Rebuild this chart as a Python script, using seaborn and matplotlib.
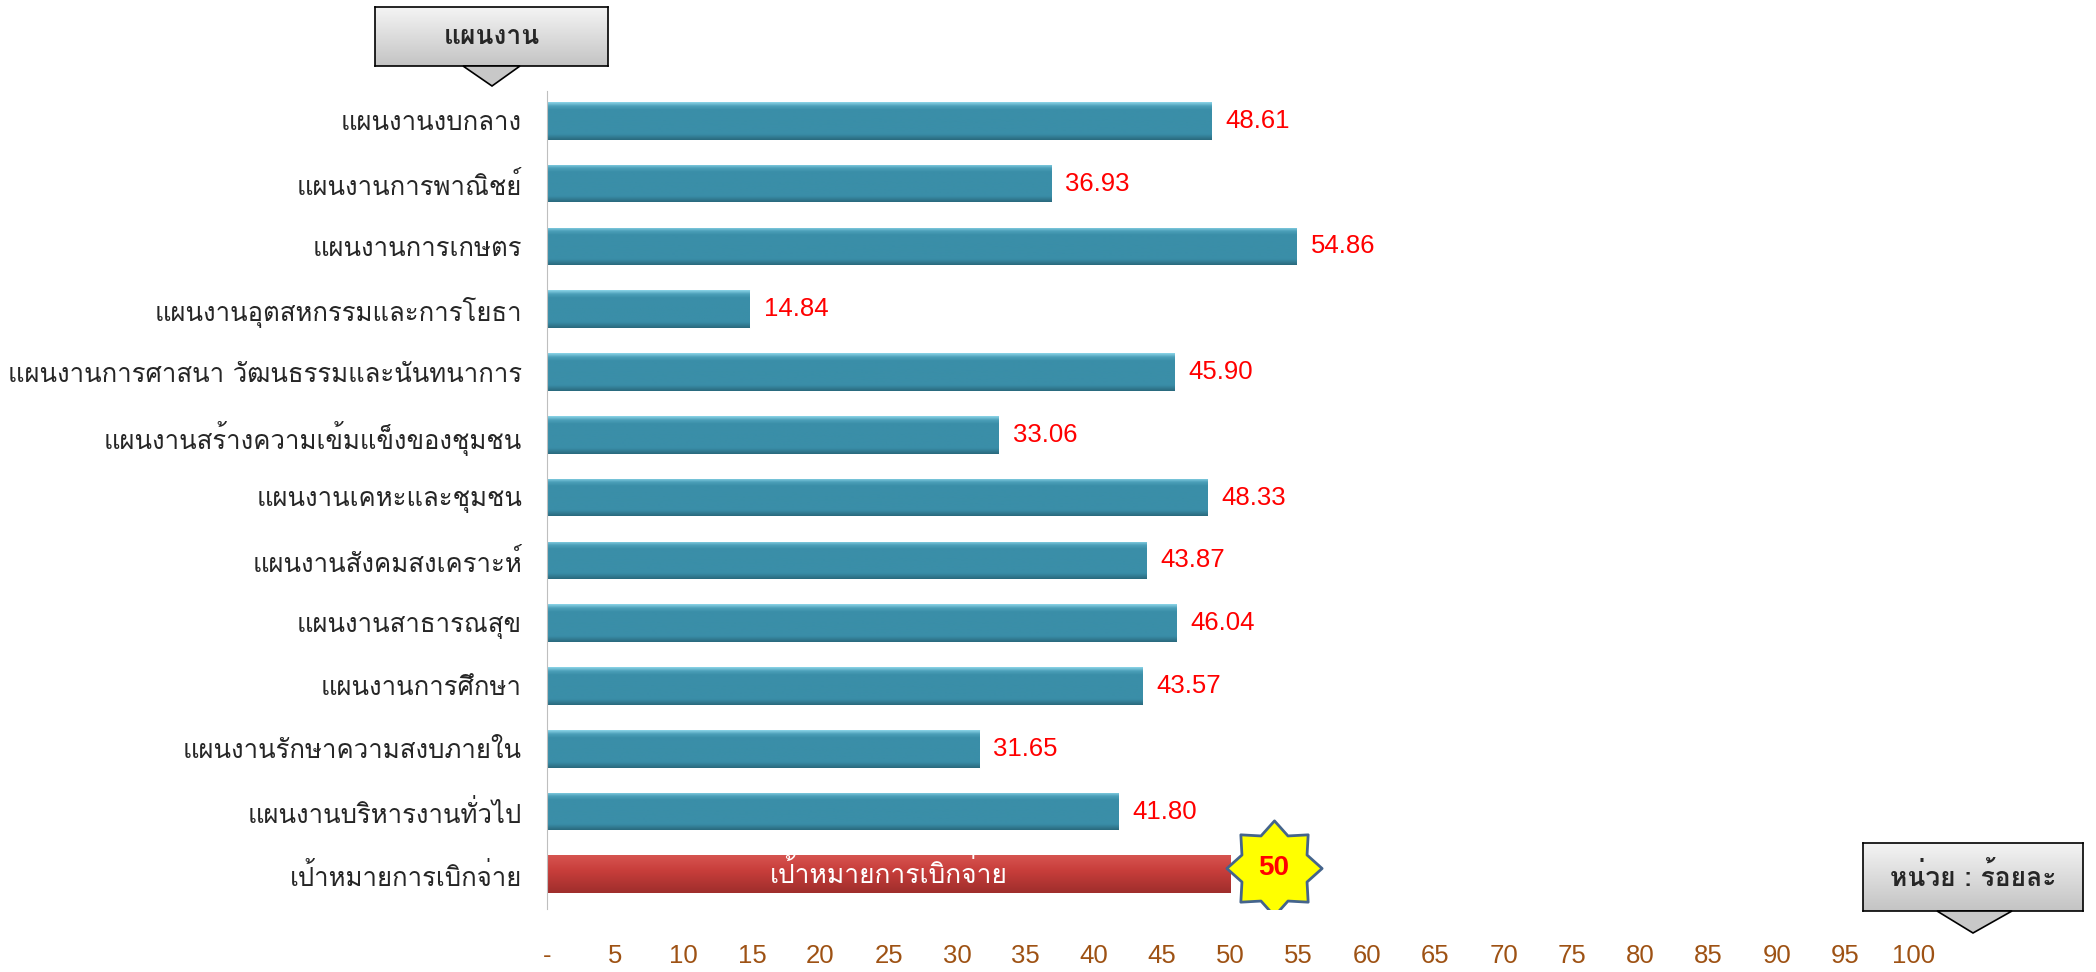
import numpy as np
import pandas as pd
import matplotlib
matplotlib.use("Agg")
import matplotlib.pyplot as plt
import seaborn as sns
from matplotlib import font_manager, ft2font
from matplotlib.colors import LinearSegmentedColormap
from matplotlib.patches import Polygon
from matplotlib.path import Path

# ข้อมูล
plans = ["แผนงานงบกลาง", "แผนงานการพาณิชย์", "แผนงานการเกษตร",
         "แผนงานอุตสหกรรมและการโยธา", "แผนงานการศาสนา วัฒนธรรมและนันทนาการ",
         "แผนงานสร้างความเข้มแข็งของชุมชน", "แผนงานเคหะและชุมชน",
         "แผนงานสังคมสงเคราะห์", "แผนงานสาธารณสุข", "แผนงานการศึกษา",
         "แผนงานรักษาความสงบภายใน", "แผนงานบริหารงานทั่วไป"]
values = [48.61, 36.93, 54.86, 14.84, 45.90, 33.06, 48.33, 43.87, 46.04, 43.57, 31.65, 41.80]
target_label = "เป้าหมายการเบิกจ่าย"
target = 50
xticks = list(range(0, 101, 5))
xtick_labels = ["-"] + [str(t) for t in xticks[1:]]


# หา font ที่มีอักษรไทย
def find_thai_font():
    prefer = ["Tahoma", "Loma", "Garuda", "Noto Sans Thai", "Sarabun", "Norasi", "Kinnari"]
    found = []
    for f in font_manager.fontManager.ttflist:
        try:
            cm = ft2font.FT2Font(f.fname).get_charmap()
        except Exception:
            continue
        if 0x0E01 in cm:
            found.append(f.name)
    for p in prefer:
        if p in found:
            return p
    return found[0] if found else "DejaVu Sans"


sns.set_style("white")
thai = find_thai_font()
plt.rcParams["font.family"] = [thai, "DejaVu Sans"]
num_font = ["Liberation Sans Narrow", "Liberation Sans", "DejaVu Sans"]

df = pd.DataFrame({"plan": plans + [target_label], "value": values + [target]})
pal = {p: "#3A8EA8" for p in plans}
pal[target_label] = "#C23B38"

fig = plt.figure(figsize=(20.96, 9.72), dpi=100)
ax = fig.add_axes([0.261, 0.065, 0.652, 0.841])
sns.barplot(data=df, y="plan", x="value", hue="plan", palette=pal, legend=False,
            orient="h", width=0.6, ax=ax, saturation=1)

teal = LinearSegmentedColormap.from_list("teal", [(0, "#8AD3E6"), (0.1, "#4B9FB8"), (0.2, "#3A8EA8"),
                                                  (0.85, "#3A8EA8"), (1, "#2A6A7E")])
red = LinearSegmentedColormap.from_list("red", [(0, "#D65450"), (0.4, "#C83E3B"), (1, "#9F2E2C")])
grad = np.linspace(0, 1, 64).reshape(-1, 1)
for i, patch in enumerate(ax.patches):
    x0, y0 = patch.get_x(), patch.get_y()
    w, h = patch.get_width(), patch.get_height()
    cm = red if i == len(ax.patches) - 1 else teal
    im = ax.imshow(grad, cmap=cm, aspect="auto", extent=(x0, x0 + w, y0 + h, y0),
                   origin="upper", zorder=patch.get_zorder() + 0.1)
    im.set_clip_path(patch)

for i, v in enumerate(values):
    ax.text(v + 1.0, i, f"{v:.2f}", color="red", fontsize=18.5, va="center", ha="left",
            family=num_font)

ax.text(target / 2, len(plans), target_label, color="white", fontsize=19, va="center", ha="center", zorder=5)

# ดาว
n = 8
ang = np.linspace(0, 2 * np.pi, 2 * n, endpoint=False) + np.pi / 2
r = np.where(np.arange(2 * n) % 2 == 0, 1.0, 0.74)
verts = np.column_stack([r * np.cos(ang), r * np.sin(ang)])
star = Path(np.vstack([verts, verts[:1]]), closed=True)
ax.scatter([target + 3.2], [len(plans) - 0.1], marker=star, s=4700, color="#FFFF00",
           edgecolor="#44648C", linewidth=2, zorder=6)
ax.text(target + 3.2, len(plans) - 0.1, str(target), color="red", fontsize=20, fontweight="bold",
        ha="center", va="center", zorder=7, family=num_font)

ax.set_xlim(0, 100)
ax.set_ylim(len(plans) + 0.55, -0.47)
ax.set_xticks(xticks)
ax.set_xticklabels(xtick_labels, color="#9E5214", fontsize=18.5, family=num_font)
ax.tick_params(axis="x", length=0, pad=25)
ax.tick_params(axis="y", length=0, pad=18, labelsize=18.5)
ax.set_xlabel("")
ax.set_ylabel("")
for s in ["top", "right", "bottom"]:
    ax.spines[s].set_visible(False)
ax.spines["left"].set_color("#BFBFBF")


# กล่องหัวข้อ
def callout(rect, text, tri_base, tri_apex):
    bx = fig.add_axes(rect)
    bx.imshow(np.linspace(0, 1, 64).reshape(-1, 1), aspect="auto",
              cmap=LinearSegmentedColormap.from_list("g", ["#F4F4F4", "#C4C4C4"]),
              extent=(0, 1, 0, 1))
    bx.set_xticks([])
    bx.set_yticks([])
    for s in bx.spines.values():
        s.set_color("black")
        s.set_linewidth(1.2)
    bx.text(0.5, 0.5, text, ha="center", va="center", fontsize=19, fontweight="bold",
            transform=bx.transAxes)
    W, H = 2096, 972
    (xa, xb, yb), (xp, yp) = tri_base, tri_apex
    tri = Polygon([(xa / W, 1 - yb / H), (xb / W, 1 - yb / H), (xp / W, 1 - yp / H)],
                  closed=True, transform=fig.transFigure, facecolor="#C8C8C8",
                  edgecolor="black", linewidth=1.2)
    fig.patches.append(tri)


callout([375 / 2096, 1 - 66 / 972, 233 / 2096, 59 / 972], "แผนงาน", (463, 520, 66), (492, 86))
callout([1863 / 2096, 1 - 911 / 972, 220 / 2096, 68 / 972], "หน่วย : ร้อยละ", (1937, 2012, 911), (1973, 933))

fig.savefig("out.png", dpi=100)
